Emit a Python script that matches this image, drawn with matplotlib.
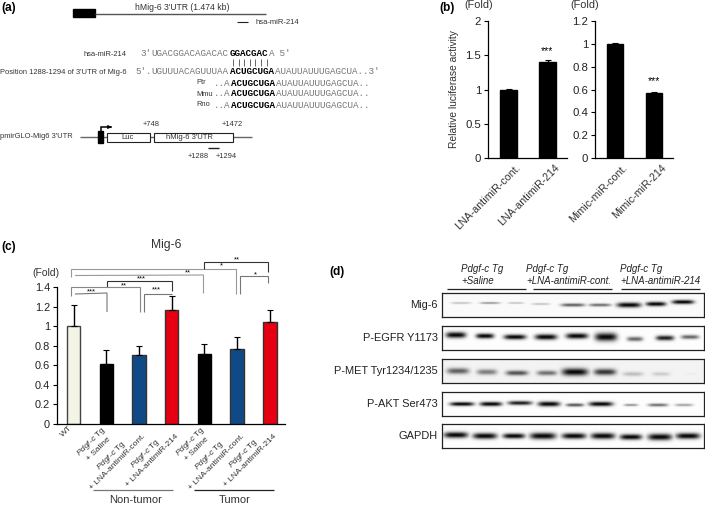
import numpy as np
import matplotlib
matplotlib.use("Agg")
import matplotlib.pyplot as plt
from matplotlib.patches import Rectangle
from matplotlib.transforms import Affine2D

plt.rcParams["font.family"] = ["Liberation Sans", "DejaVu Sans"]
plt.rcParams["mathtext.fontset"] = "custom"
plt.rcParams["mathtext.it"] = "Liberation Sans:italic"
plt.rcParams["mathtext.rm"] = "Liberation Sans"

W, H = 705, 505

# panel b
b1_labels = ["LNA-antimiR-cont.", "LNA-antimiR-214"]
b1_values = [1.0, 1.4]
b1_err = [0.01, 0.025]
b2_labels = ["Mimic-miR-cont.", "Mimic-miR-214"]
b2_values = [1.0, 0.57]
b2_err = [0.01, 0.01]

# panel c
c_labels = ["WT",
            r"$\mathit{Pdgf}$-$\mathit{c}$ Tg" + "\n+ Saline",
            r"$\mathit{Pdgf}$-$\mathit{c}$ Tg" + "\n+ LNA-antimiR-cont.",
            r"$\mathit{Pdgf}$-$\mathit{c}$ Tg" + "\n+ LNA-antimiR-214",
            r"$\mathit{Pdgf}$-$\mathit{c}$ Tg" + "\n+ Saline",
            r"$\mathit{Pdgf}$-$\mathit{c}$ Tg" + "\n+ LNA-antimiR-cont.",
            r"$\mathit{Pdgf}$-$\mathit{c}$ Tg" + "\n+ LNA-antimiR-214"]
c_values = [1.0, 0.615, 0.705, 1.17, 0.72, 0.765, 1.045]
c_err = [0.215, 0.145, 0.095, 0.14, 0.10, 0.12, 0.12]
c_colors = ["#f3f3e6", "black", "#0f4a87", "#e60012", "black", "#0f4a87", "#e60012"]
c_edges = ["#444444", "black", "#333333", "#333333", "black", "#333333", "#333333"]

# panel d, band positions in px of the panel, one row per protein
blot_names = ["Mig-6", "P-EGFR Y1173", "P-MET Tyr1234/1235", "P-AKT Ser473", "GAPDH"]
blot_x = [[19, 48, 74, 99, 131, 158, 187, 214, 241],
          [14, 43, 73, 104, 135, 164, 193, 223, 248],
          [16, 45, 75, 105, 133, 163, 191, 219, 249],
          [20, 49, 78, 107, 133, 159, 189, 216, 242],
          [14, 43, 72, 101, 132, 161, 189, 218, 246]]
blot_y = [[10, 10, 10, 11, 12, 12, 12, 11, 9],
          [9, 10, 11, 11, 10, 11, 13, 12, 11],
          [12, 13, 14, 14, 13, 13, 15, 15, 15],
          [12, 12, 11, 12, 13, 12, 13, 13, 13],
          [11, 12, 12, 12, 12, 12, 13, 13, 12]]
blot_w = [[10, 10, 8, 9, 12, 11, 12, 10, 11],
          [10, 9, 11, 11, 11, 11, 8, 9, 9],
          [11, 10, 11, 10, 13, 11, 10, 9, 6],
          [12, 11, 12, 11, 9, 12, 7, 10, 9],
          [12, 12, 11, 13, 12, 12, 11, 12, 12]]
blot_t = [[1.1, 1.1, 1.0, 1.1, 1.7, 1.6, 2.5, 2.2, 2.1],
          [3.0, 2.5, 2.5, 2.8, 2.8, 4.1, 2.3, 2.5, 2.1],
          [3.0, 2.8, 2.5, 2.5, 3.7, 3.2, 2.2, 2.0, 1.1],
          [2.0, 2.2, 2.1, 2.5, 1.7, 2.3, 1.3, 1.6, 1.4],
          [3.0, 3.0, 2.6, 3.3, 2.9, 3.1, 2.8, 3.3, 3.0]]
blot_dark = [[0.22, 0.38, 0.22, 0.22, 0.62, 0.55, 1.0, 1.0, 1.0],
             [1.0, 1.0, 1.0, 1.0, 1.0, 1.0, 0.6, 0.9, 0.6],
             [0.62, 0.5, 0.68, 0.55, 1.0, 0.8, 0.22, 0.16, 0.03],
             [1.0, 1.0, 0.9, 1.0, 0.65, 1.0, 0.4, 0.55, 0.35],
             [1.0, 1.0, 1.0, 1.0, 1.0, 1.0, 1.0, 1.0, 1.0]]
blot_bg = [0.98, 0.99, 0.95, 0.99, 0.99]
blot_top = [293, 326, 359, 392, 424]
blot_h = 24

fig = plt.figure(figsize=(W / 100, H / 100), dpi=100)


def px_axes(x0, y0, x1, y1):
    # axes from pixel box, y counted from the top
    return fig.add_axes([x0 / W, 1 - y1 / H, (x1 - x0) / W, (y1 - y0) / H])


def bar_panel(box, xlim, ymax, yticks, ticklabels, labels, vals, errs, colors, edges, size, width):
    ax = px_axes(*box)
    xs = np.arange(len(vals))
    ax.bar(xs, vals, width=width, color=colors, edgecolor=edges, linewidth=1)
    ax.errorbar(xs, vals, yerr=[np.zeros(len(errs)), errs], fmt="none", ecolor="black",
                elinewidth=1, capsize=2, capthick=0.8)
    ax.set_xlim(*xlim)
    ax.set_ylim(0, ymax)
    ax.set_yticks(yticks)
    ax.set_yticklabels(ticklabels, fontsize=size, color="#222222")
    ax.set_xticks(xs)
    ax.set_xticklabels(labels, rotation=45, ha="right", rotation_mode="anchor", ma="center")
    ax.spines["top"].set_visible(False)
    ax.spines["right"].set_visible(False)
    ax.spines["left"].set_linewidth(0.9)
    ax.spines["bottom"].set_linewidth(0.9)
    ax.tick_params(axis="y", length=3, width=0.8, pad=2)
    ax.tick_params(axis="x", length=0, pad=3)
    ax.patch.set_alpha(0)
    return ax


def style_xlabels(ax, size, dx, dy, spacing=1.0):
    # nudge rotated labels, dx dy in px
    for t in ax.get_xticklabels():
        t.set_fontsize(size)
        t.set_color("#333333")
        t.set_linespacing(spacing)
        t.set_transform(t.get_transform() + Affine2D().translate(dx, dy))


# (b)
ax1 = bar_panel((488, 21, 567, 158), (-0.526, 1.5), 2, [0, 0.5, 1, 1.5, 2], ["0", "0.5", "1", "1.5", "2"],
                b1_labels, b1_values, b1_err, "black", "black", 8.2, 0.43)
ax1.set_ylabel("Relative luciferase activity", fontsize=7.4, color="#333333")
ax1.yaxis.set_label_coords(-0.37, 0.504)
style_xlabels(ax1, 7.7, 7, 0)
ax2 = bar_panel((595, 21, 673, 158), (-0.513, 1.487), 1.2, [0, 0.2, 0.4, 0.6, 0.8, 1, 1.2],
                ["0", "0.2", "0.4", "0.6", "0.8", "1", "1.2"],
                b2_labels, b2_values, b2_err, "black", "black", 8.2, 0.43)
style_xlabels(ax2, 7.7, 7, 0)

# (c)
ax3 = bar_panel((57, 287, 285, 424), (-0.504, 6.46), 1.4, [0, 0.2, 0.4, 0.6, 0.8, 1, 1.2, 1.4],
                ["0", "0.2", "0.4", "0.6", "0.8", "1", "1.2", "1.4"],
                c_labels, c_values, c_err, c_colors, c_edges, 7.9, 0.41)
style_xlabels(ax3, 6.0, -5, 3.5, 1.2)

# (d)
for name, top, xs, ys, ws, ts, ds, bg in zip(blot_names, blot_top, blot_x, blot_y, blot_w, blot_t, blot_dark, blot_bg):
    ax = px_axes(442, top, 704, top + blot_h)
    xx, yy = np.meshgrid(np.arange(262) + 0.5, np.arange(blot_h) + 0.5)
    img = np.zeros(xx.shape)
    for x, y, w, t, d in zip(xs, ys, ws, ts, ds):
        img = np.maximum(img, d * np.exp(-((xx - x) / w) ** 4 - ((yy - y) / t) ** 2))
    ax.imshow(bg - bg * img * 0.97, cmap="gray", vmin=0, vmax=1, aspect="auto", interpolation="bilinear")
    ax.set_xticks([])
    ax.set_yticks([])
    for s in ax.spines.values():
        s.set_linewidth(0.9)
        s.set_color("#222222")

# overlay in pixel coords for everything else
ov = fig.add_axes([0, 0, 1, 1], zorder=10)
ov.set_xlim(0, W)
ov.set_ylim(H, 0)
ov.axis("off")
ov.patch.set_alpha(0)


def txt(x, y, s, size=5.4, ha="left", color="#333333", **kw):
    ov.text(x, y, s, fontsize=size, ha=ha, va="center", color=color, **kw)


def line(xs, ys, color="#333333", lw=0.8):
    ov.plot(xs, ys, color=color, lw=lw, solid_capstyle="butt", solid_joinstyle="miter")


def seq(x, y, parts):
    # sequence text, (string, bold) pieces placed char by char width
    step = 5.6
    for s, bold in parts:
        ov.text(x, y, s, fontsize=6.7, family="Liberation Mono", ha="left", va="center",
                color="black" if bold else "#777777", fontweight="bold" if bold else "normal")
        x += step * len(s)


for x, y, s in [(1, 8, "(a)"), (439, 8, "(b)"), (1, 247, "(c)"), (329, 271.5, "(d)")]:
    txt(x, y, s, size=8.6, color="black", fontweight="bold")

# (a) gene map
ov.add_patch(Rectangle((73, 9), 22, 8, color="black"))
line([95, 266], [13.5, 13.5], "#555555", 1.0)
txt(182.5, 7, "hMig-6 3'UTR (1.474 kb)", size=6.2, ha="center")
line([237, 248], [22, 22], "#222222", 0.8)
txt(256, 22, "hsa-miR-214", size=5.5)

txt(127, 54, "hsa-miR-214", ha="right")
seq(140, 54, [("3'", False), ("UGACGGACAGACAC", False), ("GGACGAC", True), ("A", False), (" 5'", False)])
for i in range(7):
    line([233 + i * 5.6] * 2, [59, 66], "#666666", 0.7)
txt(127, 72, "Position 1288-1294 of 3'UTR of Mig-6", ha="right")
seq(135, 72, [("5'.", False), ("UGUUUACAGUUUAA", False), ("ACUGCUGA", True), ("AUAUUAUUUGAGCUA..3'", False)])
for y, name in zip([83, 94, 105], ["Ptr", "Mmu", "Rno"]):
    txt(196, y, name)
    seq(214, y, [("..A", False), ("ACUGCUGA", True), ("AUAUUAUUUGAGCUA..", False)])

# construct
txt(0, 137, "pmirGLO-Mig6 3'UTR")
line([80, 252], [137, 137], "#666666", 1.0)
ov.add_patch(Rectangle((97.5, 131), 5, 12, color="black", zorder=3))
line([101, 101, 111], [131, 127, 127], "black", 1.1)
ov.annotate("", xy=(114.5, 127), xytext=(108, 127), arrowprops=dict(arrowstyle="-|>", color="black", lw=0.8, mutation_scale=5))
ov.add_patch(Rectangle((106.5, 133), 43, 9, fc="white", ec="#222222", lw=0.8, zorder=3))
ov.add_patch(Rectangle((153.5, 133), 79, 9, fc="white", ec="#222222", lw=0.8, zorder=3))
ov.text(128, 137.5, "Luc", fontsize=5.5, ha="center", va="center", color="#333333", zorder=4)
ov.text(189, 137.5, "hMig-6 3'UTR", fontsize=5.5, ha="center", va="center", color="#333333", zorder=4)
txt(151, 124.5, "+748", ha="center")
txt(232, 124, "+1472", ha="center")
line([208, 219], [148, 148], "#222222", 1.0)
txt(198, 156, "+1288", ha="center")
txt(226, 156, "+1294", ha="center")

# (b) notes
txt(479, 5.5, "(Fold)", size=7.8, ha="center")
txt(585, 5.5, "(Fold)", size=7.8, ha="center")
txt(547, 51, "***", size=7.5, ha="center", color="black")
txt(654, 81, "***", size=7.5, ha="center", color="black")

# (c) notes and brackets
txt(166.5, 245, "Mig-6", size=8.7, ha="center")
txt(46, 273, "(Fold)", size=7.5, ha="center")
brackets = [([71, 71, 236, 236], [276.5, 268.5, 268.5, 294], "#999999"),
            ([203.5, 203.5, 268, 268], [268.5, 262, 262, 272], "#333333"),
            ([75, 203.5, 203.5], [275.5, 275, 293.5], "#999999"),
            ([240, 240, 268, 268], [294, 276, 276, 283], "#777777"),
            ([107, 107, 172, 172], [286.5, 281, 281, 290.5], "#333333"),
            ([71, 71, 140, 140], [295.5, 286.5, 286.5, 312], "#888888"),
            ([144, 144, 172], [312, 293.5, 293.5], "#777777"),
            ([75, 107, 107], [294, 293, 312], "#777777")]
for xs, ys, col in brackets:
    line(xs, ys, col, 0.8)
for x, y, s in [(221, 266, "*"), (236.5, 259.5, "**"), (187.5, 273, "**"), (255, 274.5, "*"),
                (141.5, 279, "***"), (123.5, 286, "**"), (156.5, 290, "***"), (91, 292, "***")]:
    txt(x, y, s, size=5.5, ha="center", color="black")
line([93, 172.5], [489.5, 489.5], "#777777", 0.9)
line([193.5, 273.5], [489.5, 489.5], "#222222", 0.9)
txt(135.5, 500, "Non-tumor", size=8, ha="center")
txt(234.5, 500, "Tumor", size=8, ha="center")

# (d) headers
for x, s1, s2 in [(461, "Pdgf-c Tg", "+Saline"), (526, "Pdgf-c Tg", "+LNA-antimiR-cont."), (620.5, "Pdgf-c Tg", "+LNA-antimiR-214")]:
    txt(x, 269.5, s1, size=7, style="italic", color="#222222")
    txt(x, 281.5, s2, size=7, style="italic", color="#222222")
line([447, 526], [288.5, 288.5], "#222222", 0.9)
line([533, 612], [288.5, 288.5], "#222222", 0.9)
line([621, 700], [288.5, 288.5], "#222222", 0.9)
for name, top in zip(blot_names, blot_top):
    txt(438, top + 12, name, size=7.9, ha="right", color="#222222")

fig.savefig("out.png", dpi=100)
